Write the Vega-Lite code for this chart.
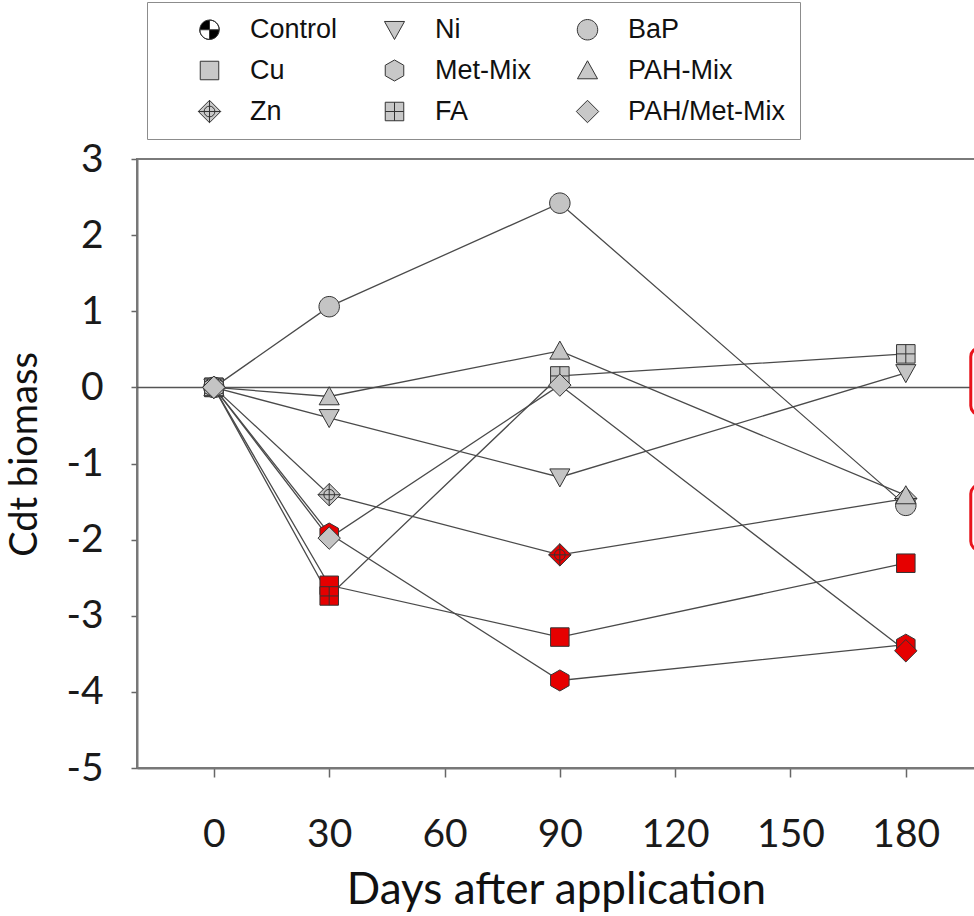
{
  "$schema": "https://vega.github.io/schema/vega-lite/v6.json",
  "width": 838,
  "height": 609,
  "autosize": {"type": "none"},
  "padding": {"left": 137, "top": 159, "right": 0, "bottom": 148},
  "background": "white",
  "config": {
    "view": {"stroke": "#7a7a7a", "strokeWidth": 2},
    "font": "Lato"
  },
  "datasets": {
    "pts": [
      {"series": "Control", "day": 0, "value": 0, "status": "control"},
      {"series": "Zn", "day": 0, "value": 0, "status": "ns"},
      {"series": "Zn", "day": 30, "value": -1.41, "status": "ns"},
      {"series": "Zn", "day": 90, "value": -2.2, "status": "sig"},
      {"series": "Zn", "day": 180, "value": -1.46, "status": "ns"},
      {"series": "Cu", "day": 0, "value": 0, "status": "ns"},
      {"series": "Cu", "day": 30, "value": -2.6, "status": "sig"},
      {"series": "Cu", "day": 90, "value": -3.28, "status": "sig"},
      {"series": "Cu", "day": 180, "value": -2.31, "status": "sig"},
      {"series": "FA", "day": 0, "value": 0, "status": "ns"},
      {"series": "FA", "day": 30, "value": -2.74, "status": "sig"},
      {"series": "FA", "day": 90, "value": 0.15, "status": "ns"},
      {"series": "FA", "day": 180, "value": 0.44, "status": "ns"},
      {"series": "Ni", "day": 0, "value": 0, "status": "ns"},
      {"series": "Ni", "day": 30, "value": -0.4, "status": "ns"},
      {"series": "Ni", "day": 90, "value": -1.18, "status": "ns"},
      {"series": "Ni", "day": 180, "value": 0.19, "status": "ns"},
      {"series": "BaP", "day": 0, "value": 0, "status": "ns"},
      {"series": "BaP", "day": 30, "value": 1.06, "status": "ns"},
      {"series": "BaP", "day": 90, "value": 2.42, "status": "ns"},
      {"series": "BaP", "day": 180, "value": -1.55, "status": "ns"},
      {"series": "PAH-Mix", "day": 0, "value": 0, "status": "ns"},
      {"series": "PAH-Mix", "day": 30, "value": -0.12, "status": "ns"},
      {"series": "PAH-Mix", "day": 90, "value": 0.48, "status": "ns"},
      {"series": "PAH-Mix", "day": 180, "value": -1.42, "status": "ns"},
      {"series": "Met-Mix", "day": 0, "value": 0, "status": "ns"},
      {"series": "Met-Mix", "day": 30, "value": -1.92, "status": "sig"},
      {"series": "Met-Mix", "day": 90, "value": -3.85, "status": "sig"},
      {"series": "Met-Mix", "day": 180, "value": -3.38, "status": "sig"},
      {"series": "PAH/Met-Mix", "day": 0, "value": 0, "status": "ns"},
      {"series": "PAH/Met-Mix", "day": 30, "value": -1.98, "status": "ns"},
      {"series": "PAH/Met-Mix", "day": 90, "value": 0.03, "status": "ns"},
      {"series": "PAH/Met-Mix", "day": 180, "value": -3.46, "status": "sig"}
    ],
    "boxes": [
      {"day": 196.9, "day2": 215, "value": 0.52, "value2": -0.36},
      {"day": 196.9, "day2": 215, "value": -1.28, "value2": -2.14}
    ]
  },
  "layer": [
    {
      "data": {"values": [{"value": 0}]},
      "mark": {"type": "rule", "color": "#555555", "strokeWidth": 1.5},
      "encoding": {
        "y": {"field": "value", "type": "quantitative", "scale": {"domain": [-5, 3]}}
      }
    },
    {
      "data": {"name": "pts"},
      "mark": {"type": "line", "color": "#4a4a4a", "strokeWidth": 1.3},
      "encoding": {
        "x": {"field": "day", "type": "quantitative", "scale": {"domain": [-20, 198], "nice": false, "zero": false}},
        "y": {"field": "value", "type": "quantitative", "scale": {"domain": [-5, 3]}},
        "detail": {"field": "series"}
      }
    },
    {
      "data": {"name": "pts"},
      "mark": {"type": "point", "filled": true, "size": 380, "stroke": "#333333", "strokeWidth": 1, "opacity": 1},
      "encoding": {
        "x": {
          "field": "day", "type": "quantitative",
          "scale": {"domain": [-20, 198], "nice": false, "zero": false},
          "axis": {
            "values": [0, 30, 60, 90, 120, 150, 180],
            "grid": false,
            "domainColor": "#777777", "domainWidth": 2,
            "tickColor": "#666666", "tickWidth": 1.5, "tickSize": 9,
            "labelFont": "Lato", "labelFontSize": 39, "labelColor": "#1a1a1a", "labelPadding": 38,
            "title": "Days after application",
            "titleFont": "Lato", "titleFontSize": 44, "titleFontWeight": "normal", "titleColor": "#111111",
            "titleBaseline": "alphabetic", "titleY": 135
          }
        },
        "y": {
          "field": "value", "type": "quantitative",
          "scale": {"domain": [-5, 3]},
          "axis": {
            "values": [-5, -4, -3, -2, -1, 0, 1, 2, 3],
            "grid": false,
            "labelExpr": "'' + datum.value",
            "domainColor": "#777777", "domainWidth": 2,
            "tickColor": "#666666", "tickWidth": 1.5, "tickSize": 6,
            "labelFont": "Lato", "labelFontSize": 39, "labelColor": "#1a1a1a", "labelPadding": 28,
            "title": "Cdt biomass",
            "titleFont": "Lato", "titleFontSize": 38, "titleFontWeight": "normal", "titleColor": "#111111",
            "titleAngle": 270, "titleAlign": "center", "titleBaseline": "alphabetic",
            "titleX": -101, "titleY": 295
          }
        },
        "shape": {
          "field": "series", "type": "nominal",
          "scale": {
            "domain": ["Control", "Ni", "BaP", "Cu", "Met-Mix", "PAH-Mix", "Zn", "FA", "PAH/Met-Mix"],
            "range": [
              "M1,0L0.966,0.259L0.866,0.5L0.707,0.707L0.5,0.866L0.259,0.966L0,1L-0.259,0.966L-0.5,0.866L-0.707,0.707L-0.866,0.5L-0.966,0.259L-1,0L-0.966,-0.259L-0.866,-0.5L-0.707,-0.707L-0.5,-0.866L-0.259,-0.966L0,-1L0.259,-0.966L0.5,-0.866L0.707,-0.707L0.866,-0.5L0.966,-0.259Z M0,0L1,0L0.966,-0.259L0.866,-0.5L0.707,-0.707L0.5,-0.866L0.259,-0.966L0,-1Z M0,0L-1,0L-0.966,0.259L-0.866,0.5L-0.707,0.707L-0.5,0.866L-0.259,0.966L0,1Z",
              "M0,1L1.03,-0.85L-1.03,-0.85Z",
              "M1.05,0A1.05,1.05 0 1,1 -1.05,0A1.05,1.05 0 1,1 1.05,0Z",
              "M-0.95,-0.95H0.95V0.95H-0.95Z",
              "M0,-1.08L0.95,-0.54L0.95,0.54L0,1.08L-0.95,0.54L-0.95,-0.54Z",
              "M0,-1L1.03,0.85L-1.03,0.85Z",
              "M0,-1.15L1.15,0L0,1.15L-1.15,0Z M0,-1.15V1.15 M-1.15,0H1.15 M0.55,0A0.55,0.55 0 1,1 -0.55,0A0.55,0.55 0 1,1 0.55,0",
              "M-0.95,-0.95H0.95V0.95H-0.95Z M0,-0.95V0.95 M-0.95,0H0.95",
              "M0,-1.15L1.15,0L0,1.15L-1.15,0Z"
            ]
          },
          "legend": {
            "orient": "none", "legendX": 10, "legendY": -157,
            "columns": 3, "direction": "horizontal",
            "title": " ", "titleOrient": "left", "titlePadding": 35, "titleFontSize": 2,
            "strokeColor": "#8c8c8c", "padding": 14,
            "gridAlign": "each", "columnPadding": 43, "rowPadding": 13,
            "symbolSize": 380,
            "symbolFillColor": {"expr": "datum.value === 'Control' ? '#000000' : '#c8c8c8'"},
            "symbolStrokeColor": "#333333", "symbolStrokeWidth": 1,
            "labelFont": "Liberation Sans", "labelFontSize": 27, "labelColor": "#111111", "labelOffset": 27,
            "labelLimit": 400
          }
        },
        "fill": {
          "field": "status", "type": "nominal",
          "scale": {"domain": ["sig", "ns", "control"], "range": ["#e60000", "#c4c4c4", "#000000"]},
          "legend": null
        }
      }
    },
    {
      "data": {"name": "boxes"},
      "mark": {"type": "rect", "fill": "white", "stroke": "#e8141c", "strokeWidth": 3, "cornerRadius": 9},
      "encoding": {
        "x": {"field": "day", "type": "quantitative", "scale": {"domain": [-20, 198], "nice": false, "zero": false}},
        "x2": {"field": "day2"},
        "y": {"field": "value", "type": "quantitative", "scale": {"domain": [-5, 3]}},
        "y2": {"field": "value2"}
      }
    }
  ]
}
